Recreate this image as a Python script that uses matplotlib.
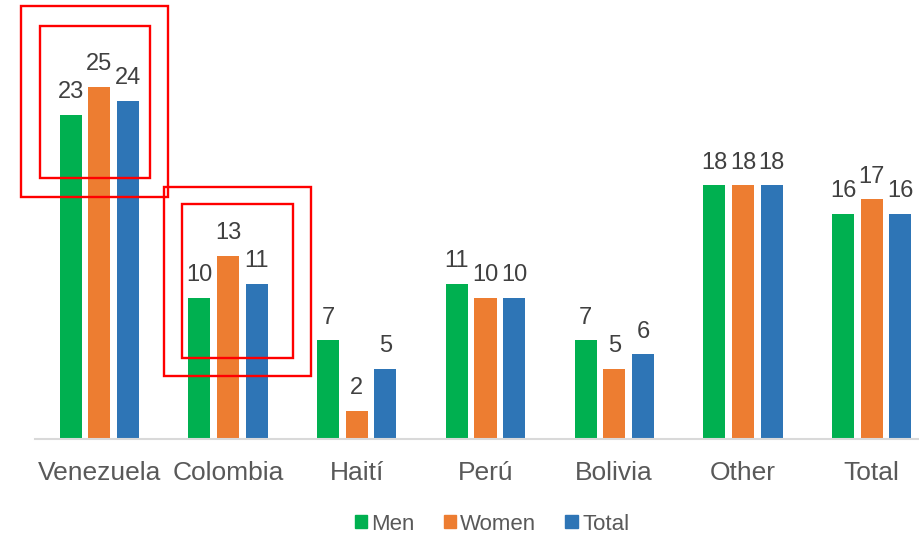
import numpy as np
import matplotlib.pyplot as plt
from matplotlib.patches import Patch, Rectangle

plt.rcParams['font.family'] = ['Liberation Sans', 'DejaVu Sans']

# ----------------------------
# DATA
# ----------------------------
categories = ["Venezuela", "Colombia", "Haití", "Perú", "Bolivia", "Other", "Total"]
men   = [23, 10, 7, 11, 7, 18, 16]
women = [25, 13, 2, 10, 5, 18, 17]
total = [24, 11, 5, 10, 6, 18, 16]

series = [("Men", men, "#00B050"),
          ("Women", women, "#ED7D31"),
          ("Total", total, "#2E75B6")]

# highlight boxes (x0, x1, y0, y1) in data units, drawn as double frames
boxes = [(-0.609, 0.533, 17.2, 30.7), (-0.461, 0.394, 18.5, 29.3),
         (0.502, 1.645, 4.47, 17.9), (0.642, 1.505, 5.75, 16.7)]

# ----------------------------
# PLOT
# ----------------------------
fig = plt.figure(figsize=(9.2, 5.36), dpi=100)
ax = fig.add_axes([35/920, 97/536, 901/920, 439/536])

x = np.arange(len(categories))
width = 0.171
step = 0.223

for i, (name, vals, col) in enumerate(series):
    pos = x + (i - 1) * step
    ax.bar(pos, vals, width=width, color=col, label=name, zorder=2)
    for px, v in zip(pos, vals):
        ax.annotate(str(v), (px, v), xytext=(0, 12), textcoords="offset points",
                    ha="center", va="baseline", fontsize=17, color="#404040")

for x0, x1, y0, y1 in boxes:
    ax.add_patch(Rectangle((x0, y0), x1 - x0, y1 - y0, fill=False,
                           edgecolor="#FF0000", linewidth=1.7,
                           clip_on=False, zorder=5))

ax.set_xlim(-0.5, 6.5)
ax.set_ylim(0, 31.16)
ax.set_xticks(x)
ax.set_xticklabels(categories, fontsize=19, color="#595959")
ax.tick_params(axis="x", length=0, pad=16)
ax.set_yticks([])
for s in ["top", "right", "left"]:
    ax.spines[s].set_visible(False)
ax.spines["bottom"].set_color("#D9D9D9")
ax.spines["bottom"].set_linewidth(1.5)

handles = [Patch(color=c, label=n) for n, _, c in series]
fig.legend(handles=handles, loc="center", bbox_to_anchor=(492/920, 1 - 524/536),
           ncol=3, frameon=False, fontsize=16, handlelength=0.55, handleheight=0.55,
           handletextpad=0.2, columnspacing=1.3, labelcolor="#595959")

plt.savefig("out.png")
